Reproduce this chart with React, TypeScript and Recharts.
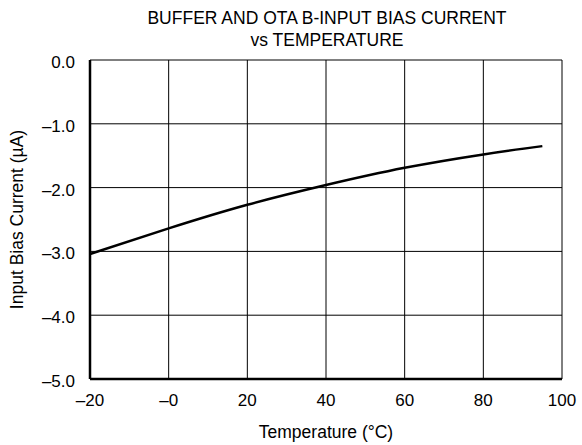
import React from "react";
import { LineChart, Line, XAxis, YAxis, CartesianGrid, Label } from "recharts";

const temperatures = [-20, 0, 20, 40, 60, 80, 95];
const biasCurrent = [-3.04, -2.64, -2.27, -1.96, -1.69, -1.48, -1.35];
const xTicks = [-20, 0, 20, 40, 60, 80, 100];
const xTickLabels = ["\u201320", "\u20130", "20", "40", "60", "80", "100"];
const yTicks = [0, -1, -2, -3, -4, -5];
const yTickLabels = ["0.0", "\u20131.0", "\u20132.0", "\u20133.0", "\u20134.0", "\u20135.0"];

const data = temperatures.map((t, i) => ({ t, v: biasCurrent[i] }));

const FONT = "'Liberation Sans', Arial, sans-serif";

export default function App() {
  return (
    <div style={{ position: "absolute", left: 0, top: 0, background: "#fff" }}>
      <svg width={582} height={50} style={{ position: "absolute", left: 0, top: 0 }}>
        <text x={327} y={24} textAnchor="middle" fontFamily={FONT} fontSize={17.5} fill="#000">
          BUFFER AND OTA B-INPUT BIAS CURRENT
        </text>
        <text x={327} y={46} textAnchor="middle" fontFamily={FONT} fontSize={17.5} fill="#000">
          vs TEMPERATURE
        </text>
      </svg>
      <LineChart
        width={582}
        height={445}
        data={data}
        margin={{ top: 60, right: 20, bottom: 0, left: 0 }}
      >
        <CartesianGrid stroke="#000" strokeWidth={1} horizontal vertical />
        <XAxis
          dataKey="t"
          type="number"
          domain={[-20, 100]}
          ticks={xTicks}
          tickFormatter={(v: number) => xTickLabels[xTicks.indexOf(v)]}
          tickLine={false}
          tickSize={0}
          tickMargin={15}
          axisLine={{ stroke: "#000", strokeWidth: 2.5 }}
          tick={{ fill: "#000", fontSize: 17, fontFamily: FONT }}
          height={66}
          interval={0}
        >
          <Label
            value="Temperature (°C)"
            position="insideBottom"
            offset={7}
            style={{ fill: "#000", fontSize: 17.5, fontFamily: FONT }}
          />
        </XAxis>
        <XAxis
          xAxisId="top"
          orientation="top"
          dataKey="t"
          type="number"
          domain={[-20, 100]}
          tick={false}
          tickLine={false}
          height={0}
          axisLine={{ stroke: "#000", strokeWidth: 2.5 }}
        />
        <YAxis
          type="number"
          domain={[-5, 0]}
          ticks={yTicks}
          tickFormatter={(v: number) => yTickLabels[yTicks.indexOf(v)]}
          tickLine={false}
          tickSize={0}
          tickMargin={15}
          axisLine={{ stroke: "#000", strokeWidth: 2.5 }}
          tick={{ fill: "#000", fontSize: 17, fontFamily: FONT, dy: 2 }}
          width={90}
          interval={0}
        >
          <Label
            value="Input Bias Current (µA)"
            angle={-90}
            position="insideLeft"
            offset={17}
            style={{ fill: "#000", fontSize: 17.5, fontFamily: FONT, textAnchor: "middle" }}
          />
        </YAxis>
        <YAxis
          yAxisId="right"
          orientation="right"
          type="number"
          domain={[-5, 0]}
          tick={false}
          tickLine={false}
          width={0}
          axisLine={{ stroke: "#000", strokeWidth: 2.5 }}
        />
        <Line
          type="natural"
          dataKey="v"
          stroke="#000"
          strokeWidth={2.5}
          dot={false}
          isAnimationActive={false}
        />
      </LineChart>
    </div>
  );
}
